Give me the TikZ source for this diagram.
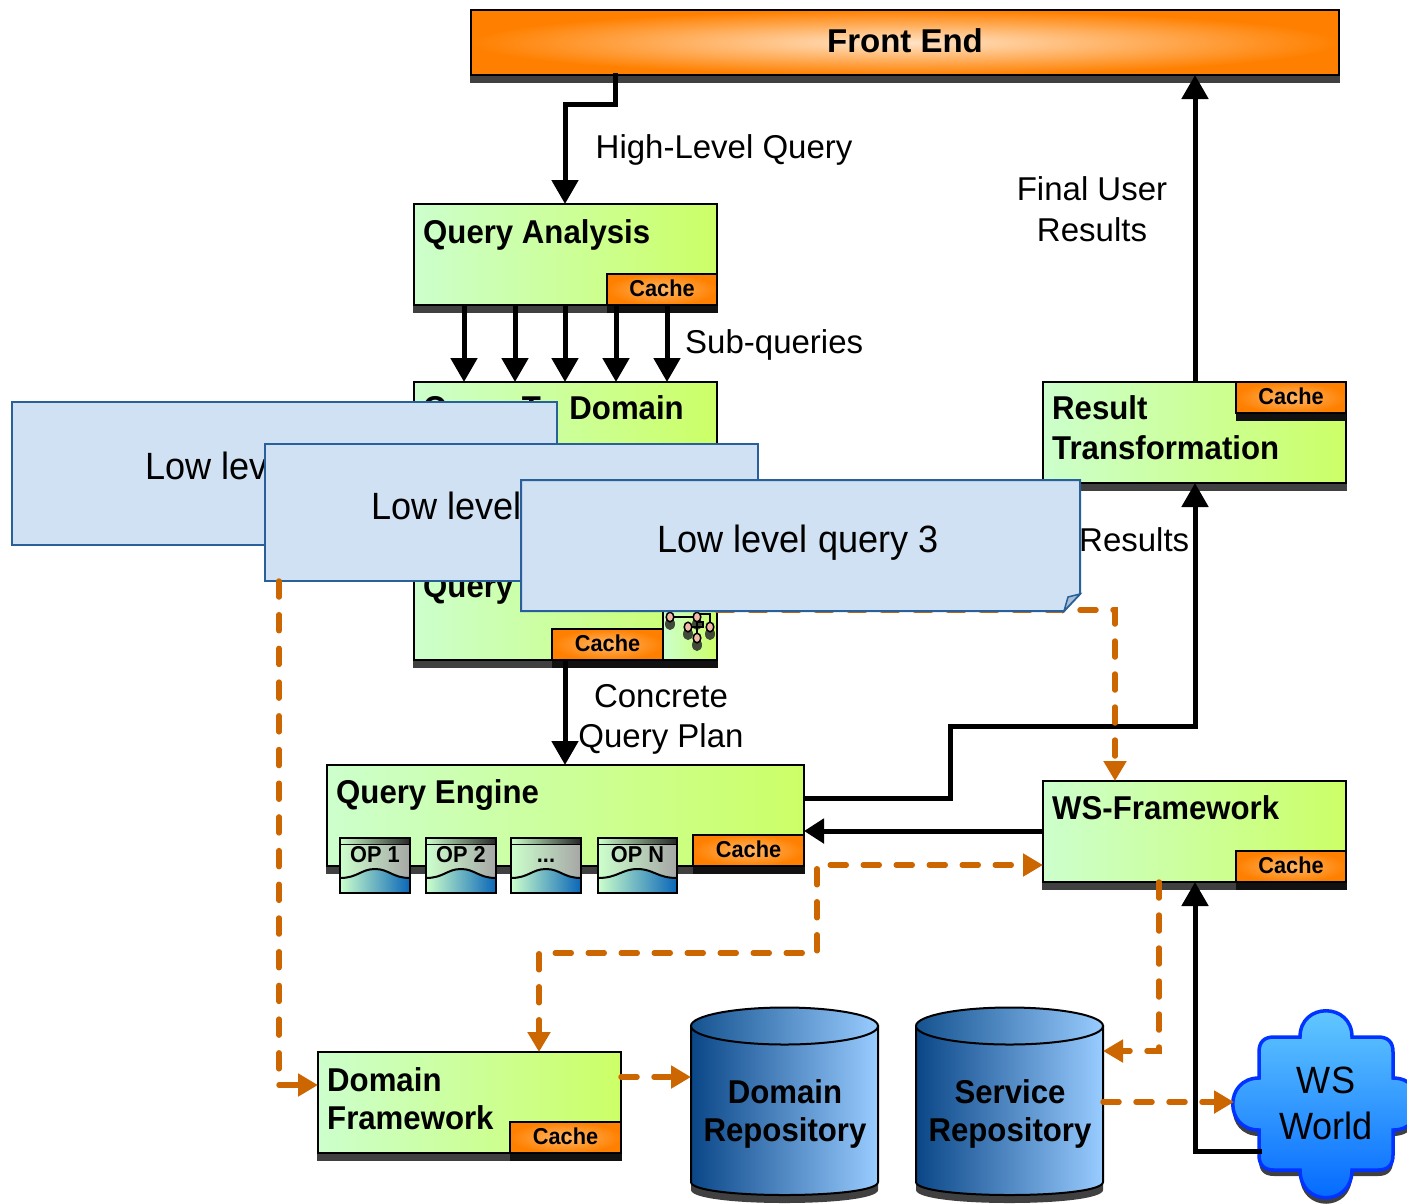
\documentclass[tikz,border=0pt]{standalone}
\usepackage{fontspec}
\setmainfont{Liberation Sans}
\newfontfamily\nfam{Liberation Sans}[FakeStretch=0.945]
\newfontfamily\lfam{Liberation Sans}[FakeStretch=0.95]
\usetikzlibrary{arrows.meta,calc}
\definecolor{gl}{HTML}{CCFFCC}
\definecolor{gr}{HTML}{CCFF66}
\definecolor{org}{HTML}{FF8000}
\definecolor{orl}{HTML}{FFE4C8}
\definecolor{orc}{HTML}{FFB868}
\definecolor{dsh}{HTML}{CC6600}
\definecolor{shd}{HTML}{404040}
\definecolor{shk}{HTML}{111111}
\definecolor{notef}{HTML}{D0E1F3}
\definecolor{noted}{HTML}{2A6099}
\definecolor{opblue}{HTML}{0A66B8}
\definecolor{opgrey}{HTML}{A6A6A6}
\definecolor{cyld}{HTML}{0A4687}
\definecolor{cyll}{HTML}{99CCFF}
\definecolor{cylm}{HTML}{14528F}
\definecolor{wtop}{HTML}{66CCFF}
\definecolor{wbot}{HTML}{0066FF}
\definecolor{wedge}{HTML}{0033FF}
\definecolor{treeshd}{HTML}{3F4A38}
\definecolor{treepink}{HTML}{F2B8A8}
\tikzset{
  box/.style={draw=black,line width=2pt,left color=gl,right color=gr,anchor=north west,inner sep=0pt,outer sep=0pt},
  cachebox/.style={draw=black,line width=2pt,shading=radial,inner color=orc,outer color=org,anchor=north west,inner sep=0pt,outer sep=0pt,
    minimum width=110pt,minimum height=31pt,text depth=2pt,font=\fontsize{23}{26}\nfam\bfseries},
  frontbox/.style={draw=black,line width=2pt,shading=radial,inner color=orl,outer color=org,anchor=north west,inner sep=0pt,outer sep=0pt},
  btext/.style={anchor=base west,inner sep=0pt,font=\fontsize{33}{38}\nfam\bfseries},
  ltext/.style={anchor=base west,inner sep=0pt,font=\fontsize{33}{38}\selectfont},
  ctext/.style={anchor=base,inner sep=0pt,font=\fontsize{33}{38}\selectfont},
  ntext/.style={anchor=base,inner sep=0pt,font=\fontsize{33}{38}\nfam\bfseries},
  fronttext/.style={anchor=base,inner sep=0pt,font=\fontsize{33}{38}\selectfont\bfseries},
  lowtext/.style={anchor=base,inner sep=0pt,font=\fontsize{38}{44}\lfam},
  areanode/.style={inner sep=0pt,outer sep=0pt,anchor=north west},
  optext/.style={inner sep=0pt,anchor=base,font=\fontsize{23}{26}\nfam\bfseries},
  main/.style={line width=5pt,draw=black,-{Triangle[length=24pt,width=26pt]}},
  thinmain/.style={line width=5pt,draw=black,-{Triangle[length=20pt,width=24pt]}},
  dsharrow/.style={line width=5.5pt,draw=dsh,line cap=round,dash pattern=on 16pt off 17pt,-{Triangle[length=20pt,width=22pt]}},
  dshline/.style={line width=5.5pt,draw=dsh,line cap=round,dash pattern=on 16pt off 17.7pt},
  dshsolid/.style={line width=5.5pt,draw=dsh,line cap=round,-{Triangle[length=20pt,width=22pt]}},
  notebox/.style={draw=noted,fill=notef,line width=2pt},
}
% x1 x2 name text
\newcommand{\opshape}[4]{%
  \path[left color=gl,right color=opgrey] (#1,838) rectangle (#2,893);
  \path[left color=gl,right color=black!85] (#1,839) rectangle (#2,844);
  \path let \n1={#2-#1} in [left color=gl,right color=opblue]
    (#1,892) -- (#1,878) .. controls ({#1+.25*\n1},878) and ({#1+.3*\n1},869) .. ({#1+.5*\n1},869)
    .. controls ({#1+.7*\n1},869) and ({#1+.75*\n1},878) .. (#2,878) -- (#2,892) -- cycle;
  \draw[black,line width=2pt] let \n1={#2-#1} in
    (#1,878) .. controls ({#1+.25*\n1},878) and ({#1+.3*\n1},869) .. ({#1+.5*\n1},869)
    .. controls ({#1+.7*\n1},869) and ({#1+.75*\n1},878) .. (#2,878);
  \draw[black,line width=1.5pt] (#1,844.5) -- (#2,844.5);
  \draw[black,line width=2pt] (#1,838) rectangle (#2,893);
  \node[optext] (#3) at ({(#1+#2)/2},862) {#4};
}
% left x
\newcommand{\cylshape}[1]{%
  \fill[shd] (#1,1040) -- (#1,1190) .. controls (#1,1198) and ({#1+42},1203) .. ({#1+93.5},1203)
    .. controls ({#1+145},1203) and ({#1+187},1198) .. ({#1+187},1190) -- ({#1+187},1040) -- cycle;
  \draw[black,line width=2pt,left color=cyld,right color=cyll]
    (#1,1026) -- (#1,1182) .. controls (#1,1190) and ({#1+42},1195) .. ({#1+93.5},1195)
    .. controls ({#1+145},1195) and ({#1+187},1190) .. ({#1+187},1182) -- ({#1+187},1026) -- cycle;
  \draw[black,line width=2pt,left color=cylm,right color=cyll]
    ({#1+93.5},1026) ellipse [x radius=93.5pt,y radius=18.5pt];
}
\newcommand{\cloudpath}{%
  (1300,1037) .. controls (1300,1002) and (1352,1002) .. (1352,1037)
  -- (1378,1037) .. controls (1388,1037) and (1393,1042) .. (1393,1052) -- (1393,1078)
  .. controls (1428,1078) and (1428,1130) .. (1393,1130)
  -- (1393,1155) .. controls (1393,1165) and (1388,1170) .. (1378,1170) -- (1352,1170)
  .. controls (1352,1207) and (1300,1207) .. (1300,1170)
  -- (1274,1170) .. controls (1264,1170) and (1259,1165) .. (1259,1155) -- (1259,1130)
  .. controls (1224,1130) and (1224,1078) .. (1259,1078)
  -- (1259,1052) .. controls (1259,1042) and (1264,1037) .. (1274,1037) -- cycle}
\begin{document}
\begin{tikzpicture}[x=1pt,y=-1pt]
\useasboundingbox (0,0) rectangle (1407,1203);

% Front End
\fill[shd] (470,75) rectangle (1340,83);
\node[frontbox,minimum width=868pt,minimum height=65pt] (fe) at (471,10) {};
\node[fronttext] (fet) at (905,52) {Front End};

% Query Analysis
\fill[shd] (413,305) rectangle (718,313);
\node[box,minimum width=303pt,minimum height=101pt] (qa) at (414,204) {};
\node[btext] (qat) at (423,243) {Query Analysis};
\fill[shk] (607,305) rectangle (718,313);
\node[cachebox] (qac) at (607,274) {Cache};

% Query To Domain
\node[box,minimum width=303pt,minimum height=110pt] (qd) at (414,382) {};
\node[btext] (qdt) at (423,419) {Query To\hspace{3pt} Domain};

% Query plan box
\fill[shd] (413,660) rectangle (718,668);
\fill[shk] (552,660) rectangle (718,668);
\node[box,minimum width=303pt,minimum height=135pt] (qp) at (414,525) {};
\node[btext] (qpt) at (423,597) {Query};
\node[box,minimum width=54pt,minimum height=60pt] (qpi) at (663,600) {};
\node[cachebox,minimum width=111pt] (qpc) at (552,629) {Cache};
% tree icon
\foreach \a/\b in {670/617,697/617,688/627,710/627,697/638}{
  \fill[treeshd] (\a,\b+7) ellipse [x radius=5pt,y radius=6pt];
}
\draw[black,line width=1.5pt] (670,617) -- (697,617) -- (697,638) (688,627) -- (697,627)
  (697,614) -- (710,614) -- (710,627) (697,622) rectangle (703,627);
\foreach \a/\b in {670/617,697/617,688/627,710/627,697/638}{
  \draw[black,fill=treepink,line width=1.5pt] (\a,\b) ellipse [x radius=3.8pt,y radius=4.8pt];
}

% dashed connector behind notes
\coordinate (d3s) at (717,610);
\coordinate (d3b) at (1115,610);

% Query Engine
\fill[shd] (326,866) rectangle (805,874);
\node[box,minimum width=477pt,minimum height=101pt] (qe) at (327,765) {};
\node[btext] (qet) at (336,803) {Query Engine};
\fill[shk] (693,866) rectangle (805,874);
\node[cachebox,minimum width=111pt] (qec) at (693,835) {Cache};
\opshape{340}{410}{op1}{OP 1}
\opshape{426}{496}{op2}{OP 2}
\opshape{511}{581}{op3}{...}
\opshape{598}{677}{opn}{OP N}

% Result Transformation
\fill[shd] (1042,483) rectangle (1347,491);
\node[box,minimum width=303pt,minimum height=101pt] (rt) at (1043,382) {};
\node[btext] (rtt) at (1052,419) {Result};
\node[btext] (rtu) at (1052,459) {Transformation};
\fill[shk] (1236,413) rectangle (1346,421);
\node[cachebox] (rtc) at (1236,382) {Cache};

% WS-Framework
\fill[shd] (1042,882) rectangle (1347,890);
\node[box,minimum width=303pt,minimum height=101pt] (ws) at (1043,781) {};
\node[btext] (wst) at (1052,819) {WS-Framework};
\fill[shk] (1236,882) rectangle (1347,890);
\node[cachebox] (wsc) at (1236,851) {Cache};

% Domain Framework
\fill[shd] (317,1153) rectangle (622,1161);
\node[box,minimum width=303pt,minimum height=101pt] (df) at (318,1052) {};
\node[btext] (dft) at (327,1091) {Domain};
\node[btext] (dfu) at (327,1129) {Framework};
\fill[shk] (510,1153) rectangle (622,1161);
\node[cachebox,minimum width=111pt] (dfc) at (510,1122) {Cache};

% Repositories
\cylshape{691}
\node[areanode,minimum width=187pt,minimum height=187pt] (dr) at (691,1008) {};
\node[ntext] (drt) at (785,1103) {Domain};
\node[ntext] (dru) at (785,1141) {Repository};
\cylshape{916}
\node[areanode,minimum width=187pt,minimum height=187pt] (sr) at (916,1008) {};
\node[ntext] (srt) at (1010,1103) {Service};
\node[ntext] (sru) at (1010,1141) {Repository};

% WS World
\begin{scope}[yshift=-6pt]
\fill[shd] \cloudpath;
\end{scope}
\draw[draw=wedge,line width=3.5pt,top color=wtop,bottom color=wbot] \cloudpath;
\node[areanode,minimum width=134pt,minimum height=133pt,align=center,font=\fontsize{38}{46}\lfam] (wo) at (1259,1037) {WS\\World};

% Black connectors
\draw[main] ([xshift=144pt,yshift=2pt]fe.south west) -- ++(0,31) -| (qa.north -| 565,0);
\foreach \x in {464,515,565,616,667}{
  \draw[main] (qa.south -| \x,0) -- (qd.north -| \x,0);
}
\draw[main] (rt.north -| 1195,0) -- (fe.south -| 1195,0);
\draw[main] (qp.south -| 565,0) -- (qe.north -| 565,0);
\draw[main] (qe.east |- 0,798) -- (950,798) -- (950,726) -- (1195,726) -- (rt.south -| 1195,0);
\draw[thinmain] (ws.west |- 0,831) -- (qe.east |- 0,831);
\draw[main] (wo.west |- 0,1151) ++(3,0) -- (1195,1151) -- (ws.south -| 1195,0);

% Orange connectors
\draw[dsharrow] (d3s) -- (d3b) -- (ws.north -| 1115,0);
\draw[dsharrow,dash phase=2.5pt,{Triangle[length=20pt,width=22pt]}-{Triangle[length=20pt,width=22pt]}]
  (df.north -| 539,0) -- (539,953) -- (817,953) -- (817,865) -- (ws.west |- 0,865);
\draw[dsharrow] (df.east |- 0,1077) -- (dr.west |- 0,1077);
\draw[dsharrow] (ws.south -| 1159,0) -- (1159,1051) -- (sr.east |- 0,1051);
\draw[dsharrow] (sr.east |- 0,1102) -- (1234,1102);

% Notes
\draw[notebox] (12,402) rectangle (557,545);
\node[areanode,minimum width=545pt,minimum height=143pt] (n1) at (12,402) {};
\node[lowtext] (n1t) at (286,479) {Low level query 1};
\draw[notebox] (265,444) rectangle (758,581);
\node[areanode,minimum width=493pt,minimum height=137pt] (n2) at (265,444) {};
\node[lowtext] (n2t) at (512,519) {Low level query 2};
\coordinate (n2d) at (279,1075);
\coordinate (n2c) at (279,1085);
\draw[dshline] (n2.south -| 279,0) -- (n2d);
\draw[dshsolid] (n2c) -- (df.west |- n2c);
\draw[notebox] (521,480) -- (1080,480) -- (1080,594) -- (1064,611) -- (521,611) -- cycle;
\filldraw[draw=noted,fill=noted!40!white,line width=1.5pt] (1064,611) -- (1068,597) -- (1080,594) -- cycle;
\node[areanode,minimum width=559pt,minimum height=131pt] (n3) at (521,480) {};
\node[lowtext] (n3t) at (798,552) {Low level query 3};

% Labels
\node[ltext] (l1) at (595.5,158) {High-Level Query};
\node[ctext] (l2) at (1092,200) {Final User};
\node[ctext] (l3) at (1092,241) {Results};
\node[ltext] (l4) at (685,353) {Sub-queries};
\node[ltext] (l5) at (1079,551) {Results};
\node[ctext] (l6) at (661,707) {Concrete};
\node[ctext] (l7) at (661,747) {Query Plan};
\end{tikzpicture}
\end{document}
